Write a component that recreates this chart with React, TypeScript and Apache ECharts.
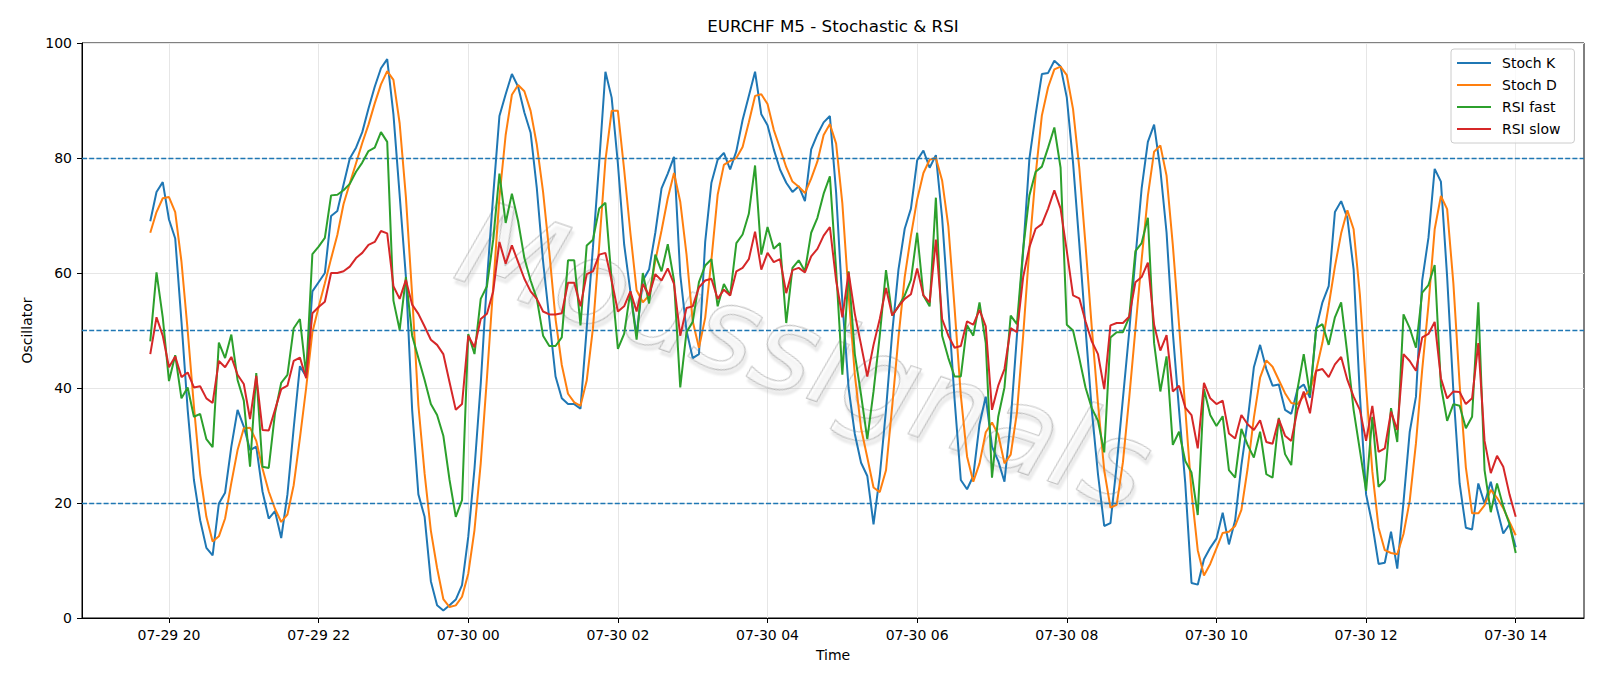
import React, { useEffect, useRef } from "react";
import * as echarts from "echarts";

// x values are hours counted from 07-29 00:00; bars are 5 minutes apart, first bar 07-29 19:45
const START_HOUR = 19.75;
const STEP_HOUR = 5 / 60;
const X_MIN = 18.8375;
const X_MAX = 38.9125;
const xTickHours = [20, 22, 24, 26, 28, 30, 32, 34, 36, 38];
const xTickLabels = ["07-29 20", "07-29 22", "07-30 00", "07-30 02", "07-30 04", "07-30 06", "07-30 08", "07-30 10", "07-30 12", "07-30 14"];
const levelLines = [20, 50, 80];
const seriesNames = ["Stoch K", "Stoch D", "RSI fast", "RSI slow"];
const seriesColors = ["#1f77b4", "#ff7f0e", "#2ca02c", "#d62728"];

const stochK = [
  69, 74.1, 75.8, 69.3, 66, 51.6, 36.2, 24, 17, 12.2,
  10.9, 19.9, 21.8, 29.8, 36.2, 33.3, 29.2, 29.8, 22, 17.3,
  18.6, 13.9, 21.5, 33, 43.8, 42, 56.8, 58.4, 60, 69.9,
  70.8, 75.4, 79.9, 81.8, 84.5, 88.6, 92.4, 95.6, 97.2, 87.6,
  73.5, 59.3, 36.2, 21.5, 17.6, 6.4, 2.2, 1.3, 2.2, 3.2,
  5.7, 14.1, 26, 40.7, 58.7, 73.5, 87.3, 91.1, 94.6, 92.4,
  87.9, 84.4, 74.7, 62, 52, 42, 38.2, 37.2, 37.2, 36.4,
  50.4, 64.5, 79.2, 95, 90.5, 79, 65, 56.8, 49.1, 58.7,
  60.6, 67, 74.7, 77.3, 80.2, 59.7, 50, 45.2, 45.9, 65.4,
  75.7, 79.7, 80.9, 78, 81.2, 86.6, 90.8, 95, 87.6, 85.7,
  81.5, 78, 75.7, 74.1, 75.1, 72.5, 81.5, 84.1, 86.2, 87.3,
  74, 55, 40, 32, 27, 24.7, 16.3, 24.7, 36.2, 49.7,
  60.6, 67.7, 71.2, 79.6, 81.3, 78.3, 80.5, 69.6, 54.2, 38,
  24, 22.4, 24.7, 33.7, 38.5, 29.8, 27.3, 23.7, 34.3, 49.1,
  63.8, 79.9, 87.6, 94.6, 94.8, 96.9, 95.9, 90.5, 79.2, 65.1,
  50.4, 36.2, 25, 16, 16.5, 26.6, 38.2, 49.7, 62.6, 74.7,
  82.8, 85.8, 78, 67, 49.7, 36.2, 23.4, 6.1, 5.8, 10.2,
  12.2, 13.8, 18.3, 12.8, 17, 26.6, 34.3, 43.6, 47.5, 43.3,
  40.4, 40.6, 36.2, 35.5, 39.8, 40.6, 38.3, 50.4, 54.9, 57.7,
  70.6, 72.5, 69.6, 60.6, 38.8, 21.5, 16.3, 9.4, 9.6, 15,
  8.6, 20.2, 32.4, 38.5, 58.7, 66.1, 78.1, 75.9, 59.3, 39.4,
  23.4, 15.7, 15.4, 23.4, 19.9, 23.7, 19, 14.7, 16.3, 12.3,
];

const stochD = [
  67, 70.6, 73, 73.2, 70.6, 62, 50, 36.8, 25, 17.6,
  13.3, 14.2, 17.3, 23.5, 29.2, 33, 33.1, 30.8, 26, 22,
  19, 16.7, 18, 23.1, 31.3, 40, 49.7, 54.1, 58.2, 62.5,
  66.6, 72, 75.6, 79.1, 82.6, 85.8, 89.5, 92.8, 95.1, 93.6,
  86, 73.2, 56.2, 37, 25.1, 15.2, 8.7, 3.3, 1.9, 2.2,
  3.7, 7.7, 15.3, 26.9, 41.8, 57.6, 73.2, 84, 91, 92.7,
  91.6, 88.2, 82.3, 74.1, 63.6, 52, 44, 39, 37.5, 36.9,
  41.3, 50.4, 64.7, 79.6, 88.2, 88.2, 78, 67, 57, 54.9,
  56.1, 62.1, 67.4, 73, 77.4, 72.4, 63.3, 51.6, 47, 52.2,
  62.3, 73.6, 78.8, 79.5, 80, 81.9, 86.2, 90.8, 91.1, 89.4,
  84.9, 81.7, 78.4, 75.9, 75, 73.9, 76.4, 79.4, 84, 85.9,
  82.5, 72.1, 56.3, 42.3, 33, 27.9, 22.7, 21.9, 25.7, 36.9,
  48.8, 59.3, 66.5, 72.8, 77.4, 79.7, 80, 76.1, 68.1, 53.9,
  38.7, 28.1, 23.7, 26.9, 32.3, 34, 31.9, 26.9, 28.4, 35.7,
  49.1, 64.3, 77.1, 87.4, 92.3, 95.4, 95.9, 94.4, 88.5, 78.3,
  64.9, 50.6, 37.3, 25.7, 19.2, 19.7, 27.1, 38.2, 50.2, 62.3,
  73.4, 81.1, 82.2, 76.9, 64.9, 51, 36.4, 21.9, 11.8, 7.4,
  9.4, 12.1, 14.8, 15, 16, 18.8, 26, 34.8, 41.8, 44.8,
  43.7, 41.4, 39.1, 37.4, 37.2, 38.6, 39.6, 43.1, 47.9, 54.3,
  61.1, 66.9, 70.9, 67.6, 56.3, 40.3, 25.5, 15.7, 11.8, 11.3,
  11.1, 14.6, 20.4, 30.4, 43.2, 54.4, 67.6, 73.4, 71.1, 58.2,
  40.7, 26.2, 18.2, 18.2, 19.6, 22.3, 20.9, 19.1, 16.7, 14.4,
];

const rsiFast = [
  48.1, 60.1, 52.3, 41.2, 45.7, 38.2, 40.1, 35, 35.5, 31.1,
  29.7, 47.9, 45.2, 49.3, 41.4, 37.8, 26.3, 42.6, 26.3, 26.1,
  35.6, 40.9, 42.3, 50.4, 52, 42.3, 63.3, 64.6, 66.1, 73.5,
  73.6, 74.4, 75.5, 77.6, 79.2, 81.2, 81.8, 84.5, 82.8, 55.2,
  50.1, 59.3, 49.1, 45.2, 41.4, 37.2, 35.3, 31.7, 24, 17.6,
  20.5, 49.4, 45.9, 55.5, 57.7, 65.8, 77.3, 68.7, 73.8, 69,
  62.6, 58.7, 55.5, 49.1, 47.3, 47.3, 48.8, 62.2, 62.2, 50.9,
  64.8, 65.8, 71.2, 72.2, 58.7, 46.8, 49.4, 56.8, 48.4, 60,
  54.7, 63.2, 60.3, 65, 58.7, 40.1, 49.7, 51.5, 58.4, 61.3,
  62.4, 54.2, 58.1, 56.1, 65.2, 66.7, 70.3, 78.7, 63.2, 68,
  64.2, 65.2, 51.3, 60.9, 62.2, 60.3, 67, 69.6, 73.8, 76.8,
  60.6, 42.3, 60.3, 45.9, 38.8, 31.1, 39.4, 49.1, 60.5, 52.6,
  54.2, 56.1, 58.8, 67, 56.1, 54.2, 73.1, 49.1, 45.2, 42,
  42, 50.9, 49.1, 54.9, 47.8, 24.4, 35, 40.1, 52.6, 51.1,
  64.2, 73.5, 77.6, 78.5, 81.8, 85.3, 78.3, 51, 50, 45.2,
  40.1, 36.5, 34.3, 28.8, 48.8, 49.7, 49.7, 52.3, 63.8, 65.2,
  69.6, 47.8, 39.4, 45.5, 30.1, 32.4, 27.3, 25.3, 17.9, 39.8,
  35.3, 33.4, 35.1, 25.7, 24.4, 32.9, 30.1, 27.9, 32.4, 25,
  24.4, 34.8, 28.5, 26.6, 39.8, 45.9, 38.8, 50.4, 51.1, 47.5,
  52.3, 54.9, 45.9, 36.2, 29.2, 22.1, 35, 22.8, 24, 36.5,
  30.6, 52.8, 50.4, 47, 56.6, 57.9, 61.4, 40.4, 34.3, 37.2,
  36.9, 33, 35, 54.9, 25.7, 18.4, 23.4, 19.4, 16.3, 11.3,
];

const rsiSlow = [
  45.9, 52.3, 49.1, 43.6, 45.5, 41.9, 42.7, 40.1, 40.3, 38.2,
  37.4, 44.7, 43.6, 45.4, 42.3, 40.7, 34.6, 42.1, 32.7, 32.6,
  36.2, 39.8, 40.4, 44.7, 45.3, 41.7, 53, 54.1, 55, 60,
  60, 60.3, 61.1, 62.6, 63.5, 64.9, 65.4, 67.3, 66.9, 57.7,
  55.5, 58.8, 54.5, 52.9, 50.7, 48.4, 47.5, 45.9, 41, 36.2,
  37.2, 49.1, 47.1, 52, 52.9, 56.8, 65.4, 61.6, 64.8, 61.9,
  59, 56.8, 55.5, 53.3, 52.8, 52.8, 53, 58.3, 58.3, 54.2,
  59.8, 60.3, 63.2, 63.5, 58.7, 53.3, 54.2, 56.8, 53.3, 58.1,
  56.1, 59.8, 58.7, 60.8, 58.1, 49.1, 53.9, 54.2, 57.5, 58.7,
  59, 55.5, 57.1, 56.1, 60.3, 60.9, 62.4, 67.2, 60.6, 63.5,
  61.9, 62.4, 56.5, 60.5, 60.9, 60.1, 62.9, 64.2, 66.5, 68,
  58.7, 52.3, 60.1, 52.9, 47.5, 42, 47.5, 52, 57.4, 52.6,
  54.2, 55.5, 56.3, 60.8, 56.1, 54.9, 65.8, 52, 49.1, 47,
  47.3, 51.6, 51, 53.6, 50.7, 36.2, 40.4, 43.3, 50.4, 49.7,
  59.3, 64.5, 67.7, 68.5, 71.2, 74.4, 71.2, 63.8, 56.1, 55.6,
  51.6, 48.1, 45.9, 39.8, 50.9, 51.3, 51.3, 52.4, 58.4, 59.3,
  61.8, 51, 46.5, 49.2, 39.4, 40.4, 36.6, 35.3, 29.5, 40.9,
  38.2, 37.2, 37.8, 32.1, 31.2, 35.3, 33.7, 32.7, 34.4, 30.6,
  30.3, 34.6, 31.7, 30.8, 36.2, 39.4, 35.6, 43, 43.3, 41.9,
  44.1, 45.4, 41.4, 38.5, 36.2, 30.8, 36.9, 28.9, 29.5, 35.9,
  32.7, 45.9, 44.7, 43, 48.8, 49.4, 51.5, 41.7, 38.2, 39.4,
  39.3, 37.2, 38.2, 47.8, 30.8, 25.2, 28.2, 26.3, 21.5, 17.6,
];

const FONT = "DejaVu Sans";

export default function App() {
  const ref = useRef<HTMLDivElement>(null);

  useEffect(() => {
    if (!ref.current) return;
    const chart = echarts.init(ref.current, null, { renderer: "svg" });
    const allSeries = [stochK, stochD, rsiFast, rsiSlow];
    const hours = stochK.map((_, i) => START_HOUR + i * STEP_HOUR);

    const series: any[] = allSeries.map((vals, s) => ({
      type: "line",
      name: seriesNames[s],
      data: vals.map((v, i) => [hours[i], v]),
      showSymbol: false,
      symbol: "none",
      lineStyle: { width: 2, color: seriesColors[s] },
      itemStyle: { color: seriesColors[s] },
      z: 3 + s,
      markLine:
        s === 0
          ? {
              silent: true,
              symbol: ["none", "none"],
              label: { show: false },
              lineStyle: { color: "#1f77b4", width: 1.4, type: [5, 2.2] },
              data: levelLines.map((y) => ({ yAxis: y })),
            }
          : undefined,
    }));

    const xLabel = (v: number) => {
      const k = xTickHours.findIndex((h) => Math.abs(h - v) < 1e-6);
      return k >= 0 ? xTickLabels[k] : "";
    };

    chart.setOption({
      animation: false,
      backgroundColor: "#ffffff",
      textStyle: { fontFamily: FONT },
      title: {
        text: "EURCHF M5 - Stochastic & RSI",
        left: 833,
        top: 17,
        textAlign: "center",
        padding: 0,
        textStyle: { fontFamily: FONT, fontSize: 16.7, fontWeight: "normal", color: "#000" },
      },
      legend: {
        data: seriesNames,
        orient: "vertical",
        left: 1451,
        top: 49,
        icon: "rect",
        itemWidth: 34,
        itemHeight: 2,
        itemGap: 8,
        padding: [7, 14, 7, 6],
        borderColor: "#cccccc",
        borderWidth: 1,
        borderRadius: 3,
        backgroundColor: "rgba(255,255,255,0.8)",
        textStyle: { fontFamily: FONT, fontSize: 14, lineHeight: 14, color: "#000", padding: [0, 0, 0, 6] },
      },
      grid: {
        left: 82,
        right: 16,
        top: 43,
        bottom: 68,
        show: true,
        borderColor: "#000",
        borderWidth: 1,
        backgroundColor: "transparent",
        containLabel: false,
        outerBoundsMode: "none",
      },
      xAxis: {
        type: "value",
        min: X_MIN,
        max: X_MAX,
        splitNumber: 10,
        name: "Time",
        nameLocation: "middle",
        nameGap: 30,
        nameTextStyle: { fontFamily: FONT, fontSize: 14, color: "#000" },
        axisLine: { show: true, onZero: false, lineStyle: { color: "#000", width: 1 } },
        axisTick: { show: true, length: 5, lineStyle: { color: "#000", width: 1 }, customValues: xTickHours },
        axisLabel: {
          fontFamily: FONT,
          fontSize: 14,
          color: "#000",
          margin: 10,
          customValues: xTickHours,
          formatter: xLabel,
        },
        splitLine: { show: true, lineStyle: { color: "#e6e6e6", width: 1 } },
      },
      yAxis: {
        type: "value",
        min: 0,
        max: 100,
        interval: 20,
        name: "Oscillator",
        nameLocation: "middle",
        nameGap: 47,
        nameTextStyle: { fontFamily: FONT, fontSize: 14, color: "#000" },
        axisLine: { show: true, lineStyle: { color: "#000", width: 1 } },
        axisTick: { show: true, length: 5, lineStyle: { color: "#000", width: 1 } },
        axisLabel: { fontFamily: FONT, fontSize: 14, color: "#000", margin: 10 },
        splitLine: { show: true, lineStyle: { color: "#e6e6e6", width: 1 } },
      },
      graphic: [
        {
          type: "text",
          x: 805,
          y: 355,
          rotation: -0.33,
          z: 1,
          silent: true,
          style: {
            text: "Moussignals",
            fontFamily: FONT,
            fontStyle: "italic",
            fontSize: 118,
            fill: "rgba(255,255,255,0.3)",
            stroke: "rgba(140,140,140,0.6)",
            lineWidth: 1.1,
            align: "center",
            verticalAlign: "middle",
            textShadowColor: "rgba(140,140,140,0.45)",
            textShadowBlur: 2,
            textShadowOffsetX: 3,
            textShadowOffsetY: 4,
          },
        },
      ],
      series,
    });

    return () => chart.dispose();
  }, []);

  return (
    <div
      ref={ref}
      style={{ position: "absolute", left: 0, top: 0, width: 1600, height: 686, background: "#fff" }}
    />
  );
}
